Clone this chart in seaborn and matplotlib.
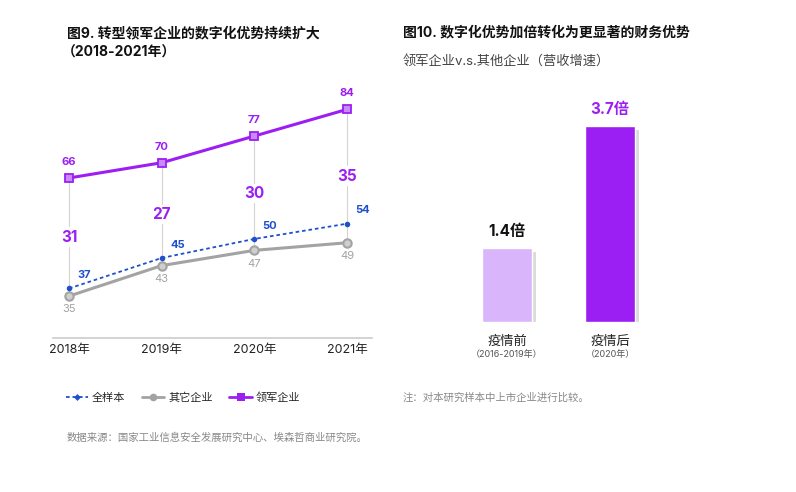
import matplotlib
matplotlib.use("Agg")
import matplotlib.pyplot as plt
import matplotlib.patheffects as pe
from matplotlib.lines import Line2D
import seaborn as sns
import pandas as pd

# ---- data ----
years = ["2018年", "2019年", "2020年", "2021年"]
all_sample = [37, 45, 50, 54]
other_firms = [35, 43, 47, 49]
leaders = [66, 70, 77, 84]

bar_cats = ["疫情前", "疫情后"]
bar_sub = ["（2016-2019年）", "（2020年）"]
bar_vals = [1.4, 3.7]
bar_labels = ["1.4倍", "3.7倍"]

PURPLE = "#9b1ff2"
LIGHT_PURPLE = "#d9b5fb"
BLUE = "#1f50cc"
GRAY = "#a3a3a3"

sns.set_style("white")
# latin glyphs from Inter, CJK falls back to Noto
plt.rcParams["font.family"] = ["Inter", "Noto Sans CJK SC", "DejaVu Sans"]

df = pd.DataFrame({"x": range(len(years)), "all": all_sample,
                   "other": other_firms, "lead": leaders})

fig = plt.figure(figsize=(7.96, 4.92), dpi=100)

# ---- left: line chart ----
ax = fig.add_axes([53 / 796, 154 / 492, 319 / 796, 253 / 492])

# thin connectors between leaders and other firms
for i in range(len(years)):
    ax.plot([i, i], [other_firms[i], leaders[i]], color="#d4d4d4", lw=0.8, zorder=1)

sns.lineplot(data=df, x="x", y="other", ax=ax, color=GRAY, lw=2.2, marker="o",
             markersize=6, markerfacecolor="#cfcfcf", markeredgecolor=GRAY,
             markeredgewidth=1.5, zorder=3)
sns.lineplot(data=df, x="x", y="all", ax=ax, color=BLUE, lw=1.3,
             linestyle=(0, (2, 1.6)), marker="o", markersize=4,
             markeredgewidth=0, zorder=4)
sns.lineplot(data=df, x="x", y="lead", ax=ax, color=PURPLE, lw=2.2, marker="s",
             markersize=6, markerfacecolor="#c78af7", markeredgecolor=PURPLE,
             markeredgewidth=1.3, zorder=5)

for i in range(len(years)):
    ax.annotate(str(leaders[i]), (i, leaders[i]), xytext=(0, 8), textcoords="offset points",
                ha="center", va="bottom", fontsize=8, fontweight="bold", color=PURPLE)
    ax.annotate(str(all_sample[i]), (i, all_sample[i]), xytext=(6, 6), textcoords="offset points",
                ha="left", va="bottom", fontsize=8, fontweight="bold", color=BLUE)
    ax.annotate(str(other_firms[i]), (i, other_firms[i]), xytext=(0, -6), textcoords="offset points",
                ha="center", va="top", fontsize=8, color=GRAY)
    gap = leaders[i] - other_firms[i]
    mid = (leaders[i] + other_firms[i]) / 2
    ax.text(i, mid, str(gap), ha="center", va="center", fontsize=11,
            fontweight="bold", color=PURPLE, zorder=6,
            bbox=dict(facecolor="white", edgecolor="none", pad=1.5))

ax.set_xlim(-0.173, 3.27)
ax.set_ylim(24.0, 90.4)
ax.set_xticks(range(len(years)))
ax.set_xticklabels(years, fontsize=9, color="#222222")
ax.tick_params(axis="x", length=0, pad=4)
ax.set_yticks([])
ax.set_xlabel("")
ax.set_ylabel("")
for s in ["top", "right", "left"]:
    ax.spines[s].set_visible(False)
ax.spines["bottom"].set_color("#cccccc")
ax.spines["bottom"].set_linewidth(1.2)

# ---- right: bar chart ----
ax2 = fig.add_axes([440 / 796, 170 / 492, 240 / 796, 223 / 492])
bdf = pd.DataFrame({"cat": bar_cats, "val": bar_vals})
sns.barplot(data=bdf, x="cat", y="val", hue="cat", palette=[LIGHT_PURPLE, PURPLE],
            width=0.485, legend=False, ax=ax2, saturation=1)
for p in ax2.patches:
    p.set_path_effects([pe.SimplePatchShadow(offset=(3, -3), shadow_rgbFace="#999999", alpha=0.35),
                        pe.Normal()])
for cont, lab, col in zip(ax2.containers, bar_labels, ["#111111", PURPLE]):
    txts = ax2.bar_label(cont, labels=[lab], padding=6, fontsize=11, fontweight="bold")
    for t in txts:
        t.set_color(col)
ax2.set_xlim(-0.65, 1.68)
ax2.set_ylim(0, 4.2)
ax2.set_xticks([])
ax2.set_yticks([])
ax2.set_xlabel("")
ax2.set_ylabel("")
for s in ax2.spines.values():
    s.set_visible(False)
tr = ax2.get_xaxis_transform()
for i in range(len(bar_cats)):
    ax2.text(i, -0.06, bar_cats[i], transform=tr, ha="center", va="top", fontsize=9.5, color="#222222")
    ax2.text(i, -0.125, bar_sub[i], transform=tr, ha="center", va="top", fontsize=6.5, color="#555555")

# ---- titles and notes ----
fig.text(67 / 796, 1 - 33 / 492, "图9. 转型领军企业的数字化优势持续扩大", fontsize=10,
         fontweight="bold", va="center", ha="left", color="#111111")
fig.text(62 / 796, 1 - 53 / 492, "（2018-2021年）", fontsize=10,
         fontweight="bold", va="center", ha="left", color="#111111")
fig.text(403 / 796, 1 - 32 / 492, "图10. 数字化优势加倍转化为更显著的财务优势", fontsize=10,
         fontweight="bold", va="center", ha="left", color="#111111")
fig.text(403 / 796, 1 - 62 / 492, "领军企业v.s.其他企业（营收增速）", fontsize=9.5,
         va="center", ha="left", color="#444444")
fig.text(403 / 796, 1 - 398 / 492, "注：对本研究样本中上市企业进行比较。", fontsize=7.5,
         va="center", ha="left", color="#888888")
fig.text(67 / 796, 1 - 438 / 492, "数据来源：国家工业信息安全发展研究中心、埃森哲商业研究院。", fontsize=7.5,
         va="center", ha="left", color="#888888")

handles = [
    Line2D([], [], color=BLUE, lw=1.3, linestyle=(0, (2, 1.6)), marker="D", markersize=3.5,
           markeredgewidth=0),
    Line2D([], [], color=GRAY, lw=2, marker="o", markersize=5.5, markerfacecolor=GRAY,
           markeredgewidth=0),
    Line2D([], [], color=PURPLE, lw=2, marker="s", markersize=6, markerfacecolor=PURPLE,
           markeredgewidth=0),
]
fig.legend(handles, ["全样本", "其它企业", "领军企业"], loc="center",
           bbox_to_anchor=(183 / 796, 1 - 398 / 492), ncol=3, frameon=False,
           fontsize=8, handlelength=2.0, columnspacing=1.5, handletextpad=0.35)

fig.savefig("out.png", dpi=100, facecolor="white")
